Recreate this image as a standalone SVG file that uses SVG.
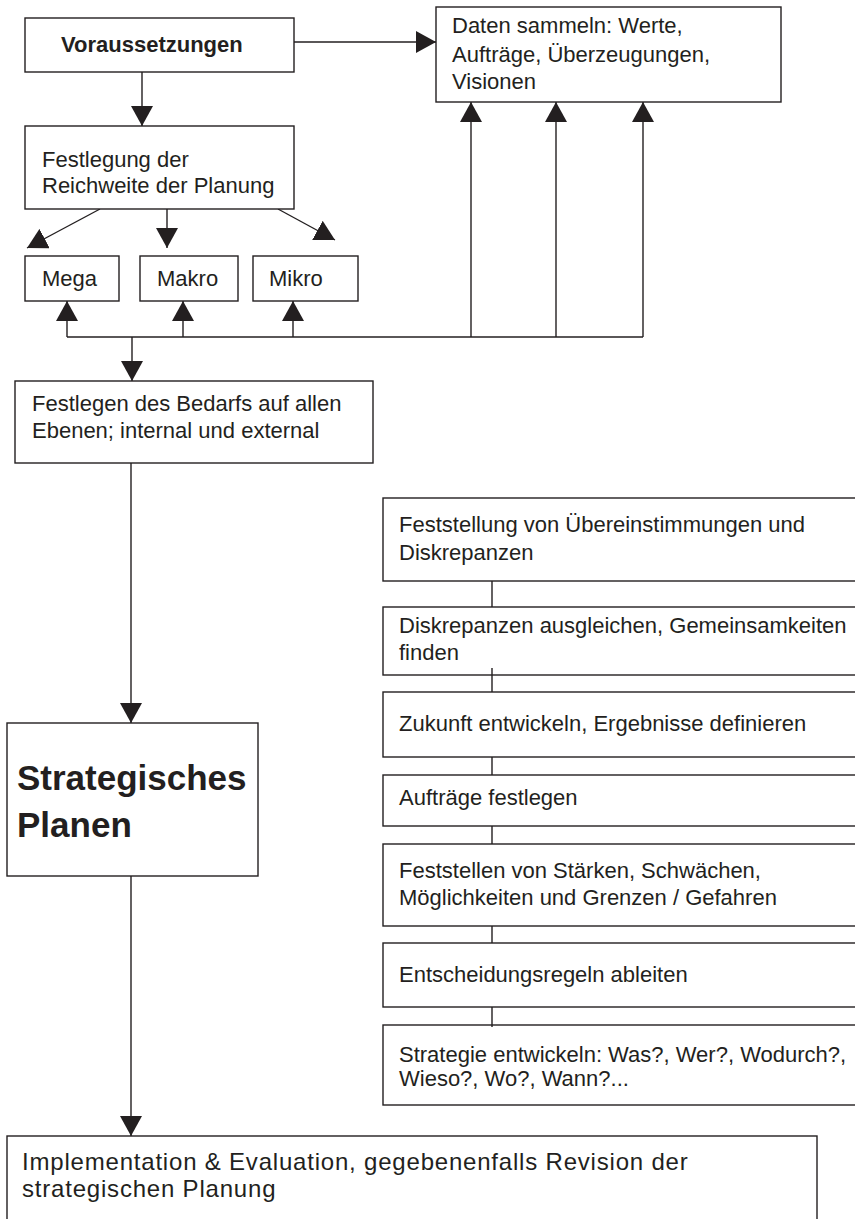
<svg xmlns="http://www.w3.org/2000/svg" width="855" height="1219" viewBox="0 0 855 1219">
<defs>
<style>
.box{fill:#fff;stroke:#231f20;stroke-width:1.4}
.t{font-family:"Liberation Sans",Arial,sans-serif;font-size:22px;fill:#231f20}
.b{font-weight:bold}
.big{font-size:35px}
.impl{font-size:24px;letter-spacing:0.8px}
.c{fill:none;stroke:#231f20;stroke-width:1.4}
</style>
<marker id="ah" markerUnits="userSpaceOnUse" markerWidth="20" markerHeight="22" refX="20" refY="11" orient="auto">
<path d="M0,0 L20,11 L0,22 z" fill="#231f20"/>
</marker>
</defs>
<rect width="855" height="1219" fill="#fff"/>

<g id="connectors">
<path class="c" d="M294,42 H436" marker-end="url(#ah)"/>
<path class="c" d="M142,72 V126" marker-end="url(#ah)"/>
<path class="c" d="M100,209 L27,248" marker-end="url(#ah)"/>
<path class="c" d="M167,209 V248" marker-end="url(#ah)"/>
<path class="c" d="M278,209 L335,240" marker-end="url(#ah)"/>
<path class="c" d="M67,337 H643"/>
<path class="c" d="M67,337 V301" marker-end="url(#ah)"/>
<path class="c" d="M183,337 V301" marker-end="url(#ah)"/>
<path class="c" d="M293,337 V301" marker-end="url(#ah)"/>
<path class="c" d="M471,337 V102" marker-end="url(#ah)"/>
<path class="c" d="M556,337 V102" marker-end="url(#ah)"/>
<path class="c" d="M643,337 V102" marker-end="url(#ah)"/>
<path class="c" d="M132,337 V381" marker-end="url(#ah)"/>
<path class="c" d="M131,463 V723" marker-end="url(#ah)"/>
<path class="c" d="M131,876 V1136" marker-end="url(#ah)"/>
</g>

<g id="n-voraussetzungen">
<rect class="box" x="25" y="18" width="269" height="54"/>
<text class="t b" x="61" y="52">Voraussetzungen</text>
</g>
<g id="n-daten">
<rect class="box" x="436" y="7" width="345" height="95"/>
<text class="t" x="452" y="33">Daten sammeln: Werte,</text>
<text class="t" x="452" y="62">Aufträge, Überzeugungen,</text>
<text class="t" x="452" y="89">Visionen</text>
</g>
<g id="n-reichweite">
<rect class="box" x="25" y="126" width="269" height="83"/>
<text class="t" x="42" y="167">Festlegung der</text>
<text class="t" x="42" y="193">Reichweite der Planung</text>
</g>
<g id="n-mega">
<rect class="box" x="25" y="256" width="94" height="45"/>
<text class="t" x="42" y="286">Mega</text>
</g>
<g id="n-makro">
<rect class="box" x="140" y="256" width="98" height="45"/>
<text class="t" x="157" y="286">Makro</text>
</g>
<g id="n-mikro">
<rect class="box" x="253" y="256" width="105" height="45"/>
<text class="t" x="269" y="286">Mikro</text>
</g>
<g id="n-bedarf">
<rect class="box" x="15" y="381" width="358" height="82"/>
<text class="t" x="32" y="411">Festlegen des Bedarfs auf allen</text>
<text class="t" x="32" y="438">Ebenen; internal und external</text>
</g>
<g id="n-strategisches">
<rect class="box" x="7" y="723" width="251" height="153"/>
<text class="t b big" x="17" y="790">Strategisches</text>
<text class="t b big" x="17" y="837">Planen</text>
</g>
<g id="n-implementation">
<rect class="box" x="7" y="1136" width="810" height="100"/>
<text class="t impl" x="22" y="1170">Implementation &amp; Evaluation, gegebenenfalls Revision der</text>
<text class="t impl" x="22" y="1197">strategischen Planung</text>
</g>

<g id="n-s1">
<rect class="box" x="383" y="498" width="490" height="83"/>
<text class="t" x="399" y="532">Feststellung von Übereinstimmungen und</text>
<text class="t" x="399" y="560">Diskrepanzen</text>
</g>
<g id="n-s2">
<rect class="box" x="383" y="607" width="490" height="68"/>
<text class="t" x="399" y="633">Diskrepanzen ausgleichen, Gemeinsamkeiten</text>
<text class="t" x="399" y="660">finden</text>
</g>
<g id="n-s3">
<rect class="box" x="383" y="692" width="490" height="65"/>
<text class="t" x="399" y="731">Zukunft entwickeln, Ergebnisse definieren</text>
</g>
<g id="n-s4">
<rect class="box" x="383" y="775" width="490" height="51"/>
<text class="t" x="399" y="805">Aufträge festlegen</text>
</g>
<g id="n-s5">
<rect class="box" x="383" y="844" width="490" height="82"/>
<text class="t" x="399" y="878">Feststellen von Stärken, Schwächen,</text>
<text class="t" x="399" y="905">Möglichkeiten und Grenzen / Gefahren</text>
</g>
<g id="n-s6">
<rect class="box" x="383" y="943" width="490" height="64"/>
<text class="t" x="399" y="982">Entscheidungsregeln ableiten</text>
</g>
<g id="n-s7">
<rect class="box" x="383" y="1025" width="490" height="80"/>
<text class="t" x="399" y="1062">Strategie entwickeln: Was?, Wer?, Wodurch?,</text>
<text class="t" x="399" y="1086">Wieso?, Wo?, Wann?...</text>
</g>

<g id="stack-connectors">
<path class="c" d="M492,581 V607"/>
<path class="c" d="M492,668 V692"/>
<path class="c" d="M492,757 V775"/>
<path class="c" d="M492,826 V844"/>
<path class="c" d="M492,926 V943"/>
<path class="c" d="M492,1007 V1027"/>
</g>
</svg>
